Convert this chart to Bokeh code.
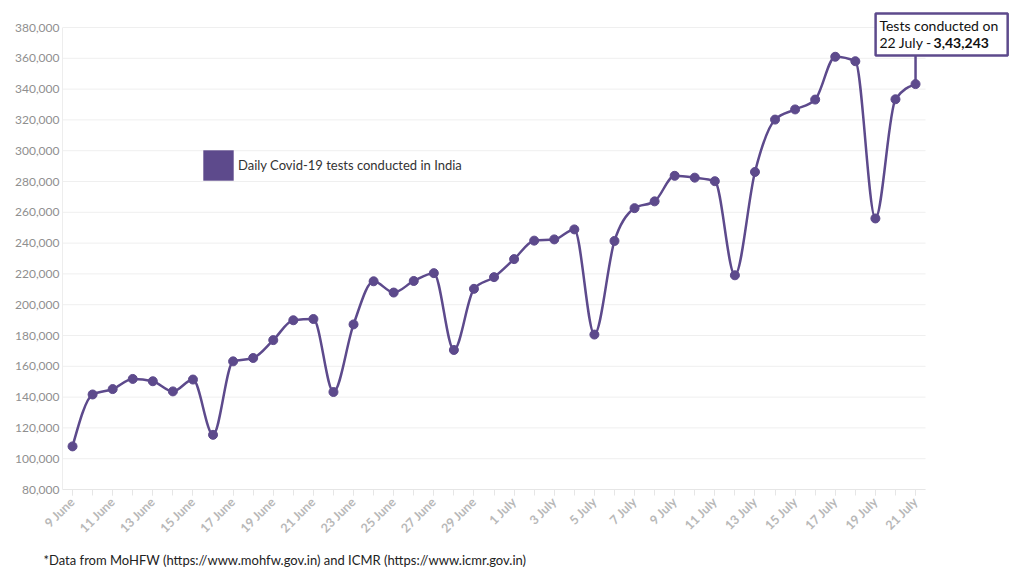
import numpy as np
from math import pi
from bokeh.plotting import figure
from bokeh.models import (Range1d, FixedTicker, NumeralTickFormatter, Label,
                          Legend, LegendItem, ColumnDataSource, BoxAnnotation, Title)
from bokeh.embed import file_html
from bokeh.resources import INLINE

# ---------------- data ----------------
dates = [f"{d} June" for d in range(9, 31)] + [f"{d} July" for d in range(1, 22)]
tests = [108000, 141700, 145200, 151800, 150300, 143700, 151400, 115500,
         163200, 165400, 177000, 189900, 190700, 143300, 187200, 215200,
         207900, 215400, 220500, 170600, 210300, 217900, 229600, 241600,
         242400, 248900, 180600, 241400, 262700, 267100, 283700, 282500,
         280200, 219100, 286200, 320200, 326800, 333200, 361000, 358100,
         256000, 333400, 343243]
y_ticks = list(range(80000, 380001, 20000))
legend_text = "Daily Covid-19 tests conducted in India"
annot_line1 = "Tests conducted on"
annot_date = "22 July - "
annot_value = "3,43,243"
footer = "*Data from MoHFW (https://www.mohfw.gov.in) and ICMR (https://www.icmr.gov.in)"

PURPLE = "#5d4a8c"
FONT = "Lato"

x = np.arange(len(tests), dtype=float)
y = np.array(tests, dtype=float)
x_lo, x_hi = -0.5, len(tests) - 0.5
y_lo, y_hi = y_ticks[0], y_ticks[-1]

# monotone cubic tangents (smooth line through the data points)
s = np.diff(y)
m = np.zeros_like(y)
for i in range(1, len(y) - 1):
    a, b = s[i - 1], s[i]
    if a * b <= 0:
        m[i] = 0.0
    else:
        pm = (a + b) / 2.0
        m[i] = (np.sign(a) + np.sign(b)) * min(abs(a), abs(b), 0.5 * abs(pm))
m[0] = (3 * s[0] - m[1]) / 2.0
m[-1] = (3 * s[-1] - m[-2]) / 2.0
curve = ColumnDataSource(dict(
    x0=x[:-1], y0=y[:-1], x1=x[1:], y1=y[1:],
    cx0=x[:-1] + 1 / 3, cy0=y[:-1] + m[:-1] / 3,
    cx1=x[1:] - 1 / 3, cy1=y[1:] - m[1:] / 3,
))

# frame is extended to the right/top so the call-out box fits inside it
p = figure(width=1024, height=577, output_backend="svg", toolbar_location=None,
           x_range=Range1d(x_lo, 46.98), y_range=Range1d(80000, 394286),
           min_border_left=62, min_border_right=9, min_border_top=5,
           min_border_bottom=88)
p.outline_line_color = None
p.background_fill_color = "white"

# axes
p.xaxis.bounds = (x_lo, x_hi)
p.xaxis.ticker = FixedTicker(ticks=[float(v) for v in x[::2]],
                             minor_ticks=[float(v) for v in x])
p.xaxis.major_label_overrides = {int(i): dates[int(i)] for i in x[::2]}
p.xaxis.major_label_orientation = pi / 4
p.xaxis.major_label_text_font = FONT
p.xaxis.major_label_text_font_style = "bold"
p.xaxis.major_label_text_font_size = "12.5px"
p.xaxis.major_label_text_color = "#b8b8b8"
p.xaxis.axis_line_color = "#e6e6e6"
p.xaxis.major_tick_line_color = "#e6e6e6"
p.xaxis.minor_tick_line_color = "#e6e6e6"
p.xaxis.major_tick_out = 6
p.xaxis.minor_tick_out = 6
p.xaxis.major_tick_in = 0
p.xaxis.minor_tick_in = 0
p.xaxis.major_label_standoff = 4

p.yaxis.bounds = (y_lo, y_hi)
p.yaxis.ticker = FixedTicker(ticks=y_ticks)
p.yaxis.formatter = NumeralTickFormatter(format="0,0")
p.yaxis.major_tick_out = 0
p.yaxis.major_tick_in = 0
p.yaxis.minor_tick_out = 0
p.yaxis.minor_tick_in = 0
p.yaxis.axis_line_color = "#ededed"
p.yaxis.major_label_text_font = FONT
p.yaxis.major_label_text_font_size = "12px"
p.yaxis.major_label_text_color = "#8f8f8f"
p.yaxis.major_label_standoff = 3

p.xgrid.visible = False
p.ygrid.visible = False
# horizontal grid lines limited to the data area
p.segment(x0=[x_lo] * len(y_ticks), y0=y_ticks, x1=[x_hi] * len(y_ticks),
          y1=y_ticks, line_color="#efefef", line_width=1)

# connector for annotation
p.segment(x0=[x[-1]], y0=[y[-1]], x1=[x[-1]], y1=[361820],
          line_color=PURPLE, line_width=2.5)

# smooth line + points
p.bezier(x0="x0", y0="y0", x1="x1", y1="y1", cx0="cx0", cy0="cy0",
         cx1="cx1", cy1="cy1", source=curve, line_color=PURPLE, line_width=2.5)
p.scatter(x, y, size=9, fill_color=PURPLE, line_color=PURPLE)

# legend
sq = p.quad(left=[np.nan], right=[np.nan], top=[np.nan], bottom=[np.nan],
            fill_color=PURPLE, line_color=None)
legend = Legend(items=[LegendItem(label=legend_text, renderers=[sq])],
                location=(137, 305), glyph_width=38, glyph_height=38,
                label_height=38, padding=0, margin=0, spacing=0,
                border_line_color=None, background_fill_alpha=0,
                label_standoff=1, label_text_font=FONT,
                label_text_font_size="13px", label_text_color="#333333")
p.add_layout(legend)

# annotation box
p.add_layout(BoxAnnotation(left=40.01, right=46.59, top=389090, bottom=361820,
                           fill_color="white", fill_alpha=1.0,
                           line_color=PURPLE, line_width=2.5, line_alpha=1.0))
p.add_layout(Label(x=40.2, y=381300, text=annot_line1, text_font=FONT,
                   text_font_size="14px", text_color="#111111",
                   text_align="left", text_baseline="middle"))
p.add_layout(Label(x=40.2, y=370260, text=annot_date, text_font=FONT,
                   text_font_size="14px", text_color="#111111",
                   text_align="left", text_baseline="middle"))
p.add_layout(Label(x=42.9, y=370260, text=annot_value, text_font=FONT,
                   text_font_size="14px", text_font_style="bold",
                   text_color="#111111", text_align="left", text_baseline="middle"))

# footer
p.add_layout(Title(text=footer, align="left", offset=-19, standoff=12,
                   text_font=FONT, text_font_size="13px",
                   text_font_style="normal", text_color="#222222"), "below")

open("out.html", "w").write(file_html(p, INLINE))
